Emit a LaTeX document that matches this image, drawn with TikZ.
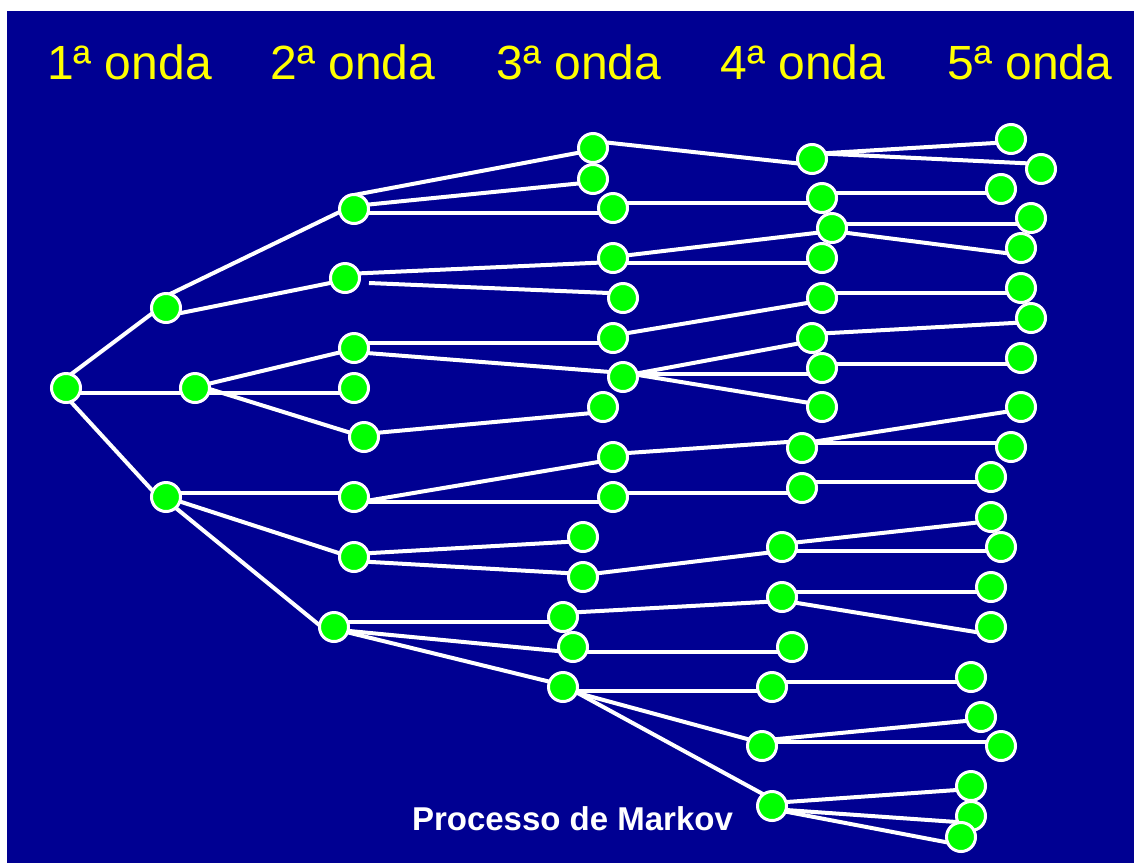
\documentclass[tikz,border=0pt]{standalone}
\usepackage{fontspec}
\setmainfont{Liberation Sans}
\definecolor{bgblue}{RGB}{0,0,146}
\definecolor{nodegreen}{RGB}{0,255,0}
\definecolor{titleyellow}{RGB}{255,255,0}
\pgfdeclarelayer{bg}
\pgfdeclarelayer{edges}
\pgfsetlayers{bg,edges,main}
\tikzset{
  st/.style={circle, fill=nodegreen, draw=white, line width=3pt, minimum size=29pt, inner sep=0pt},
  ln/.style={draw=white, line width=4pt},
  wave/.style={text=titleyellow, anchor=base, font=\fontsize{48}{50}\selectfont, inner sep=0pt},
  caption/.style={text=white, anchor=base, font=\fontsize{33}{35}\selectfont\bfseries, inner sep=0pt}
}
\begin{document}
\begin{tikzpicture}[x=1pt,y=-1pt]
\useasboundingbox (0,0) rectangle (1134,863);
\begin{pgfonlayer}{bg}
\fill[bgblue] (7,11) rectangle (1134,863);
\end{pgfonlayer}
% titles
\node[wave] (w1) at (129.5,79) {1ª onda};
\node[wave] (w2) at (353,79) {2ª onda};
\node[wave] (w3) at (579,79) {3ª onda};
\node[wave] (w4) at (803,79) {4ª onda};
\node[wave] (w5) at (1030,79) {5ª onda};
\node[caption] (mk) at (572.5,830) {Processo de Markov};
% wave 1
\node[st] (A) at (66,388) {};
\node[st] (B1) at (166,308) {};
\node[st] (B2) at (195,388) {};
\node[st] (B3) at (166,497) {};
% wave 2
\node[st] (C1) at (354,209) {};
\node[st] (C2) at (345,278) {};
\node[st] (C3) at (354,348) {};
\node[st] (C4) at (354,388) {};
\node[st] (C5) at (364,437) {};
\node[st] (C6) at (354,497) {};
\node[st] (C7) at (354,557) {};
\node[st] (C8) at (334,627) {};
% wave 3
\node[st] (D1) at (593,148) {};
\node[st] (D2) at (593,179) {};
\node[st] (D3) at (613,208) {};
\node[st] (D4) at (613,258) {};
\node[st] (D5) at (623,298) {};
\node[st] (D6) at (613,338) {};
\node[st] (D7) at (623,377) {};
\node[st] (D8) at (603,407) {};
\node[st] (D9) at (613,457) {};
\node[st] (D10) at (613,497) {};
\node[st] (D11) at (583,537) {};
\node[st] (D12) at (583,577) {};
\node[st] (D13) at (563,617) {};
\node[st] (D14) at (573,647) {};
\node[st] (D15) at (563,687) {};
% wave 4
\node[st] (E1) at (812,159) {};
\node[st] (E2) at (822,198) {};
\node[st] (E3) at (832,228) {};
\node[st] (E4) at (822,258) {};
\node[st] (E5) at (822,298) {};
\node[st] (E6) at (812,338) {};
\node[st] (E7) at (822,368) {};
\node[st] (E8) at (822,407) {};
\node[st] (E9) at (802,448) {};
\node[st] (E10) at (802,488) {};
\node[st] (E11) at (782,547) {};
\node[st] (E12) at (782,597) {};
\node[st] (E13) at (792,647) {};
\node[st] (E14) at (772,687) {};
\node[st] (E15) at (762,746) {};
\node[st] (E16) at (772,806) {};
% wave 5
\node[st] (F1) at (1011,139) {};
\node[st] (F2) at (1041,169) {};
\node[st] (F3) at (1001,189) {};
\node[st] (F4) at (1031,218) {};
\node[st] (F5) at (1021,248) {};
\node[st] (F6) at (1021,288) {};
\node[st] (F7) at (1031,318) {};
\node[st] (F8) at (1021,358) {};
\node[st] (F9) at (1021,407) {};
\node[st] (F10) at (1011,447) {};
\node[st] (F11) at (991,477) {};
\node[st] (F12) at (991,517) {};
\node[st] (F13) at (1001,547) {};
\node[st] (F14) at (991,587) {};
\node[st] (F15) at (991,627) {};
\node[st] (F16) at (971,677) {};
\node[st] (F17) at (981,717) {};
\node[st] (F18) at (1001,746) {};
\node[st] (F19) at (971,786) {};
\node[st] (F20) at (971,816) {};
\node[st] (F21) at (961,837) {};
\coordinate (c2x) at (369,283);
\begin{pgfonlayer}{edges}
\foreach \a/\b/\sa/\sb in {
  A/B1/-10/-5, A/B2/5/5, A/B3/8.5/8.4,
  B1/C1/-12/-4, B1/C2/8/2, B2/C3/-1/1, B2/C4/5/5, B2/C5/-3.5/0,
  B3/C6/-4.5/-4.5, B3/C7/0/1, B3/C8/3/10,
  C1/D1/-14/2, C1/D2/-3/3, C1/D3/4/5, C2/D4/-4/4,
  C3/D6/-5/5, C3/D7/4/-4, C5/D8/-3/5, C6/D9/6/2.5, C6/D10/5/5,
  C7/D11/-3/4, C7/D12/4/-3, C8/D13/-5/5, C8/D14/2.5/5.5, C8/D15/2/-2,
  D1/E1/-7/6, D3/E2/-5/5, D4/E3/-1/3, D4/E4/5/5, D6/E5/-2.5/2.5,
  D7/E6/-1/3, D7/E7/-3/6, D7/E8/-4.5/-2, D9/E9/-3/-7, D10/E10/-4/5,
  D12/E11/-2/4, D13/E12/-4/4, D14/E13/5/5, D15/E14/3.5/3.5,
  D15/E15/2/-3, D15/E16/-2/-7,
  E1/F1/-5/3, E1/F2/-6/-5, E2/F3/-5/4, E3/F4/-4/6, E3/F5/3/7,
  E5/F6/-5/5, E6/F7/-4/4, E7/F8/-4/6, E9/F9/-4.5/2.5, E9/F10/-5/-4,
  E10/F11/-6.5/4.5, E11/F12/-3/4, E11/F13/4/4, E12/F14/-5/5, E12/F15/3.5/7.5,
  E14/F16/-5/5, E15/F17/-5.5/2.5, E15/F18/-4/-4,
  E16/F19/-3/3, E16/F20/3/7, E16/F21/3/8}
  {\draw[ln] ([shift={(0,\sa)}]\a.center) -- ([shift={(0,\sb)}]\b.center);}
\draw[ln] (c2x) -- ([shift={(0,-4.4)}]D5.center);
\end{pgfonlayer}
\end{tikzpicture}
\end{document}
